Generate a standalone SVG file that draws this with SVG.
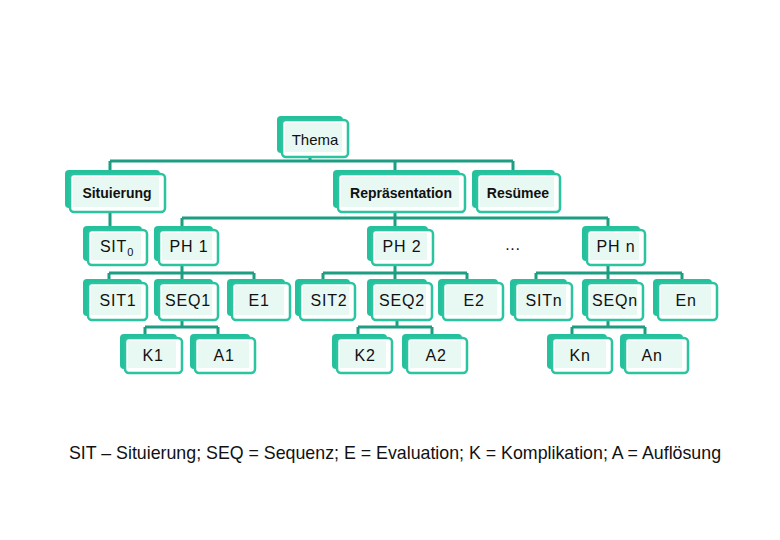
<svg xmlns="http://www.w3.org/2000/svg" width="780" height="540" viewBox="0 0 780 540">
<style>
.bk{fill:#25c09c}
.fr{fill:#ffffff;stroke:#2ac4a0;stroke-width:2.5}
.mi{fill:#e8f8f3}
.t{font-family:"Liberation Sans",Arial,sans-serif;font-size:16px;letter-spacing:0.8px;fill:#111;text-anchor:middle}
.b{font-family:"Liberation Sans",Arial,sans-serif;font-size:14px;font-weight:bold;fill:#111;text-anchor:middle}
.c{fill:none;stroke:#1d9e82;stroke-width:3}
.lg{font-family:"Liberation Sans",Arial,sans-serif;font-size:17.8px;fill:#111;text-anchor:middle}
</style>
<rect width="780" height="540" fill="#ffffff"/>
<g id="connectors" class="c">
<path d="M310 157V161M110 161H513M110 161V170M395 161V172M513 161V172"/>
<path d="M110 212V228M395 213V218M182 218H608M182 218V228M395 218V228M608 218V228"/>
<path d="M182 265V273M109 273H254M109 273V281M182 273V281M254 273V281"/>
<path d="M395 265V273M323 273H467M323 273V281M395 273V281M467 273V281"/>
<path d="M608 265V273M536 273H682M536 273V281M608 273V281M682 273V281"/>
<path d="M182 320V327M145 327H218M145 327V335M218 327V335"/>
<path d="M397 320V327M358 327H432M358 327V335M432 327V335"/>
<path d="M608 320V327M572 327H645M572 327V335M645 327V335"/>
</g>
<g id="thema"><rect class="bk" x="277" y="116" width="66" height="37" rx="4"/><rect class="fr" x="282" y="120" width="66" height="37" rx="4"/><rect class="mi" x="285" y="123" width="57" height="29"/><text class="t" x="315" y="145" style="font-size:15px;letter-spacing:0">Thema</text></g>
<g id="situierung"><rect class="bk" x="65" y="170" width="95" height="38" rx="4"/><rect class="fr" x="70" y="174" width="95" height="38" rx="4"/><rect class="mi" x="73" y="177" width="86" height="30"/><text class="b" x="117" y="198">Situierung</text></g>
<g id="repraesentation"><rect class="bk" x="333" y="170" width="127" height="38" rx="4"/><rect class="fr" x="338" y="174" width="127" height="38" rx="4"/><rect class="mi" x="341" y="177" width="118" height="30"/><text class="b" x="401" y="198">Repräsentation</text></g>
<g id="resuemee"><rect class="bk" x="472" y="170" width="83" height="38" rx="4"/><rect class="fr" x="477" y="174" width="83" height="38" rx="4"/><rect class="mi" x="480" y="177" width="74" height="30"/><text class="b" x="518" y="198">Resümee</text></g>
<g id="sit0"><rect class="bk" x="83" y="226" width="59" height="35" rx="4"/><rect class="fr" x="88" y="230" width="59" height="35" rx="4"/><rect class="mi" x="91" y="233" width="50" height="27"/><text class="t" x="117" y="252">SIT<tspan style="font-size:11px" dy="4">0</tspan></text></g>
<g id="ph1"><rect class="bk" x="154" y="226" width="59" height="35" rx="4"/><rect class="fr" x="159" y="230" width="59" height="35" rx="4"/><rect class="mi" x="162" y="233" width="50" height="27"/><text class="t" x="189" y="252">PH 1</text></g>
<g id="ph2"><rect class="bk" x="367" y="226" width="61" height="35" rx="4"/><rect class="fr" x="372" y="230" width="61" height="35" rx="4"/><rect class="mi" x="375" y="233" width="52" height="27"/><text class="t" x="402" y="252">PH 2</text></g>
<g id="dots"><text class="t" x="513" y="250">...</text></g>
<g id="phn"><rect class="bk" x="582" y="226" width="58" height="35" rx="4"/><rect class="fr" x="587" y="230" width="58" height="35" rx="4"/><rect class="mi" x="590" y="233" width="49" height="27"/><text class="t" x="616" y="252">PH n</text></g>
<g id="sit1"><rect class="bk" x="83" y="279" width="59" height="37" rx="4"/><rect class="fr" x="88" y="283" width="59" height="37" rx="4"/><rect class="mi" x="91" y="286" width="50" height="29"/><text class="t" x="118" y="306">SIT1</text></g>
<g id="seq1"><rect class="bk" x="154" y="279" width="59" height="37" rx="4"/><rect class="fr" x="159" y="283" width="59" height="37" rx="4"/><rect class="mi" x="162" y="286" width="50" height="29"/><text class="t" x="188" y="306">SEQ1</text></g>
<g id="e1"><rect class="bk" x="227" y="279" width="58" height="37" rx="4"/><rect class="fr" x="232" y="283" width="58" height="37" rx="4"/><rect class="mi" x="235" y="286" width="49" height="29"/><text class="t" x="259" y="306">E1</text></g>
<g id="sit2"><rect class="bk" x="295" y="279" width="55" height="37" rx="4"/><rect class="fr" x="300" y="283" width="55" height="37" rx="4"/><rect class="mi" x="303" y="286" width="46" height="29"/><text class="t" x="329" y="306">SIT2</text></g>
<g id="seq2"><rect class="bk" x="367" y="279" width="60" height="37" rx="4"/><rect class="fr" x="372" y="283" width="60" height="37" rx="4"/><rect class="mi" x="375" y="286" width="51" height="29"/><text class="t" x="402" y="306">SEQ2</text></g>
<g id="e2"><rect class="bk" x="438" y="279" width="60" height="37" rx="4"/><rect class="fr" x="443" y="283" width="60" height="37" rx="4"/><rect class="mi" x="446" y="286" width="51" height="29"/><text class="t" x="474" y="306">E2</text></g>
<g id="sitn"><rect class="bk" x="510" y="279" width="57" height="37" rx="4"/><rect class="fr" x="515" y="283" width="57" height="37" rx="4"/><rect class="mi" x="518" y="286" width="48" height="29"/><text class="t" x="544" y="306">SITn</text></g>
<g id="seqn"><rect class="bk" x="582" y="279" width="56" height="37" rx="4"/><rect class="fr" x="587" y="283" width="56" height="37" rx="4"/><rect class="mi" x="590" y="286" width="47" height="29"/><text class="t" x="615" y="306">SEQn</text></g>
<g id="en"><rect class="bk" x="653" y="279" width="59" height="37" rx="4"/><rect class="fr" x="658" y="283" width="59" height="37" rx="4"/><rect class="mi" x="661" y="286" width="50" height="29"/><text class="t" x="686" y="306">En</text></g>
<g id="k1"><rect class="bk" x="120" y="334" width="57" height="35" rx="4"/><rect class="fr" x="125" y="338" width="57" height="35" rx="4"/><rect class="mi" x="128" y="341" width="48" height="27"/><text class="t" x="153" y="361">K1</text></g>
<g id="a1"><rect class="bk" x="190" y="334" width="60" height="35" rx="4"/><rect class="fr" x="195" y="338" width="60" height="35" rx="4"/><rect class="mi" x="198" y="341" width="51" height="27"/><text class="t" x="224" y="361">A1</text></g>
<g id="k2"><rect class="bk" x="332" y="334" width="55" height="35" rx="4"/><rect class="fr" x="337" y="338" width="55" height="35" rx="4"/><rect class="mi" x="340" y="341" width="46" height="27"/><text class="t" x="365" y="361">K2</text></g>
<g id="a2"><rect class="bk" x="402" y="334" width="60" height="35" rx="4"/><rect class="fr" x="407" y="338" width="60" height="35" rx="4"/><rect class="mi" x="410" y="341" width="51" height="27"/><text class="t" x="436" y="361">A2</text></g>
<g id="kn"><rect class="bk" x="547" y="334" width="60" height="35" rx="4"/><rect class="fr" x="552" y="338" width="60" height="35" rx="4"/><rect class="mi" x="555" y="341" width="51" height="27"/><text class="t" x="580" y="361">Kn</text></g>
<g id="an"><rect class="bk" x="620" y="334" width="63" height="35" rx="4"/><rect class="fr" x="625" y="338" width="63" height="35" rx="4"/><rect class="mi" x="628" y="341" width="54" height="27"/><text class="t" x="652" y="361">An</text></g>
<g id="legend"><text class="lg" x="395" y="459">SIT – Situierung; SEQ = Sequenz; E = Evaluation; K = Komplikation; A = Auflösung</text></g>
</svg>
